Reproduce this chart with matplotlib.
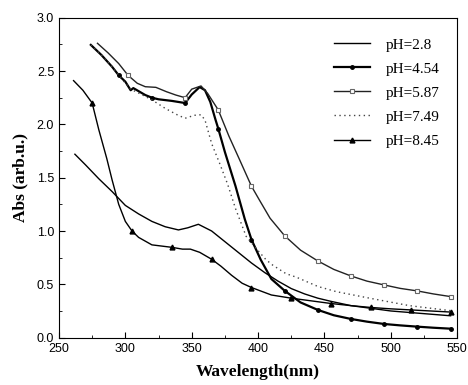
# -*- coding: utf-8 -*-
import numpy as np
import matplotlib
matplotlib.use('Agg')
import matplotlib.pyplot as plt
from matplotlib.ticker import MultipleLocator

# ---------------------------------------------------------------
# DADOS

wl_28 = [262, 270, 280, 290, 300, 310, 320, 330, 340, 347, 355, 365, 375,
         385, 395, 405, 415, 425, 435, 445, 455, 470, 485, 500, 515, 530, 545]
abs_28 = [1.72, 1.62, 1.49, 1.37, 1.24, 1.16, 1.09, 1.04, 1.01, 1.03, 1.063,
          1.00, 0.90, 0.80, 0.70, 0.61, 0.53, 0.46, 0.41, 0.37, 0.34, 0.30,
          0.275, 0.25, 0.235, 0.22, 0.205]

wl_454 = [274, 282, 290, 295, 300, 304, 306, 315, 320, 325, 335, 345, 350,
          356, 360, 364, 368, 370, 375, 383, 390, 395, 402, 410, 420, 432,
          445, 457, 470, 482, 495, 507, 520, 532, 545]
abs_454 = [2.745, 2.65, 2.54, 2.46, 2.40, 2.32, 2.34, 2.275, 2.25, 2.235,
           2.22, 2.20, 2.28, 2.35, 2.32, 2.21, 2.04, 1.96, 1.74, 1.42, 1.11,
           0.92, 0.73, 0.55, 0.44, 0.33, 0.26, 0.21, 0.175, 0.15, 0.128,
           0.115, 0.103, 0.093, 0.084]
mk_454 = [295, 320, 345, 370, 395, 420, 445, 470, 495, 520, 545]

wl_587 = [279, 287, 295, 302, 309, 315, 323, 331, 338, 345, 350, 357, 362,
          370, 378, 386, 395, 401, 409, 420, 432, 445, 457, 470, 482, 495,
          507, 520, 532, 545]
abs_587 = [2.76, 2.67, 2.57, 2.46, 2.385, 2.353, 2.347, 2.306, 2.275, 2.25,
           2.33, 2.36, 2.29, 2.135, 1.89, 1.67, 1.42, 1.29, 1.12, 0.955, 0.82,
           0.719, 0.64, 0.578, 0.53, 0.494, 0.462, 0.438, 0.41, 0.385]
mk_587 = [302, 345, 370, 395, 420, 445, 470, 495, 520, 545]

wl_749 = [274, 282, 290, 297, 304, 309, 320, 330, 339, 345, 352, 357, 360,
          365, 371, 377, 383, 391, 399, 406, 411, 421, 429, 445, 459, 484,
          514, 545]
abs_749 = [2.745, 2.65, 2.54, 2.43, 2.33, 2.30, 2.23, 2.15, 2.09, 2.057,
           2.085, 2.09, 2.04, 1.82, 1.635, 1.44, 1.21, 0.95, 0.83, 0.73,
           0.68, 0.60, 0.566, 0.48, 0.431, 0.37, 0.30, 0.253]

wl_845 = [261, 268, 275, 280, 286, 290, 295, 300, 305, 310, 320, 335, 343,
          349, 356, 365, 372, 380, 388, 395, 410, 425, 440, 455, 470, 485,
          500, 515, 530, 545]
abs_845 = [2.41, 2.32, 2.20, 1.95, 1.68, 1.48, 1.25, 1.09, 1.00, 0.94, 0.87,
           0.847, 0.83, 0.83, 0.80, 0.735, 0.67, 0.585, 0.51, 0.47, 0.40,
           0.37, 0.345, 0.32, 0.30, 0.283, 0.27, 0.26, 0.25, 0.24]
mk_845 = [275, 305, 335, 365, 395, 425, 455, 485, 515, 545]


def idx(wl, mk):
    return list(np.where(np.isin(wl, mk))[0])


# ---------------------------------------------------------------
# FIGURA

fig = plt.figure(figsize=(4.68, 3.85), dpi=100)
ax = fig.add_axes([0.126, 0.123, 0.851, 0.831])

ax.plot(wl_28, abs_28, color='black', lw=1.0, label='pH=2.8')
ax.plot(wl_454, abs_454, color='black', lw=1.6, marker='o', ms=2.5,
        markevery=idx(wl_454, mk_454), label='pH=4.54')
ax.plot(wl_587, abs_587, color='#222222', lw=1.0, marker='s', ms=3.2,
        mfc='white', mec='#666666', mew=0.8,
        markevery=idx(wl_587, mk_587), label='pH=5.87')
ax.plot(wl_749, abs_749, color='#444444', lw=1.0, ls=(0, (1, 2.5)),
        label='pH=7.49')
ax.plot(wl_845, abs_845, color='black', lw=1.0, marker='^', ms=3.5,
        markevery=idx(wl_845, mk_845), label='pH=8.45')

ax.set_xlim(250, 550)
ax.set_ylim(0, 3.0)
ax.xaxis.set_major_locator(MultipleLocator(50))
ax.xaxis.set_minor_locator(MultipleLocator(25))
ax.yaxis.set_major_locator(MultipleLocator(0.5))
ax.yaxis.set_minor_locator(MultipleLocator(0.25))
ax.tick_params(which='both', direction='in', top=False, right=False)
ax.tick_params(which='major', length=4)
ax.tick_params(which='minor', length=2.5)
for lab in ax.get_xticklabels() + ax.get_yticklabels():
    lab.set_family('Liberation Sans')
    lab.set_fontsize(9)

ax.set_xlabel('Wavelength(nm)', family='Liberation Serif',
              fontweight='bold', fontsize=12.5, labelpad=7)
ax.set_ylabel('Abs (arb.u.)', family='Liberation Serif',
              fontweight='bold', fontsize=12.5, labelpad=6)

ax.legend(loc='upper left', bbox_to_anchor=(0.655, 0.98), frameon=False,
          prop={'family': 'Liberation Serif', 'size': 11},
          handlelength=2.4, handletextpad=1.0, labelspacing=0.68)

fig.savefig('out.png', dpi=100)
